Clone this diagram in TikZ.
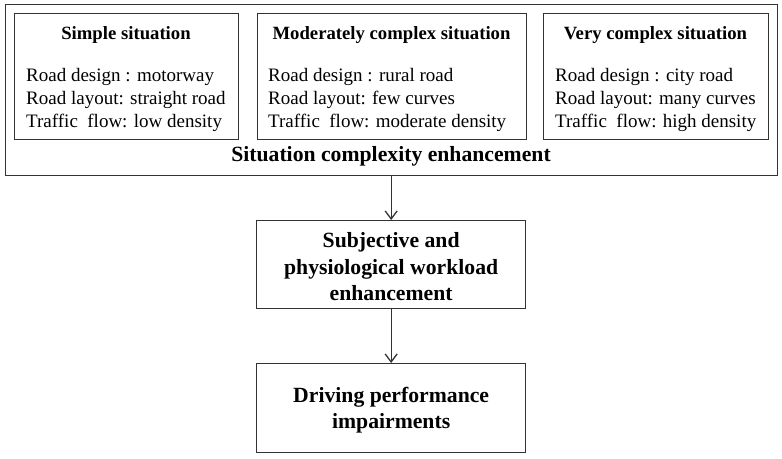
\documentclass[tikz,border=0pt]{standalone}
\usepackage{fontspec}
\setmainfont{Liberation Serif}
\usetikzlibrary{arrows.meta}
\begin{document}
\begin{tikzpicture}[x=1pt,y=-1pt,
  frame/.style={draw=black!80, line width=1.3pt},
  head/.style={font=\fontsize{18.7}{21}\selectfont\bfseries, anchor=center},
  body/.style={font=\fontsize{19}{23}\selectfont, anchor=north west, align=left, inner sep=0pt},
  big/.style={font=\fontsize{21.7}{26.5}\selectfont\bfseries, align=center},
  arr/.style={draw=black!80, line width=1.3pt, -{Straight Barb[length=8pt,width=12pt]}}]
\useasboundingbox (0,0) rectangle (782,458);
% outer
\node[frame, minimum width=772pt, minimum height=171pt, anchor=north west, inner sep=0pt] (outer) at (5,4) {};
\node[frame, minimum width=224pt, minimum height=126pt, anchor=north west, inner sep=0pt] (b1) at (14,13) {};
\node[frame, minimum width=269pt, minimum height=126pt, anchor=north west, inner sep=0pt] (b2) at (257,13) {};
\node[frame, minimum width=225pt, minimum height=126pt, anchor=north west, inner sep=0pt] (b3) at (543,13) {};
\node[head] (h1) at (126,35) {Simple situation};
\node[head] (h2) at (391.5,35) {Moderately complex situation};
\node[head] (h3) at (655.5,35) {Very complex situation};
\node[body] (t1) at (26,68) {Road design : motorway\\Road layout: straight road\\Traffic\ \ flow: low density};
\node[body] (t2) at (268,68) {Road design : rural road\\Road layout: few curves\\Traffic\ \ flow: moderate density};
\node[body] (t3) at (555,68) {Road design : city road\\Road layout: many curves\\Traffic\ \ flow: high density};
\node[big] (sce) at (391,156) {Situation complexity enhancement};
\node[frame, minimum width=269pt, minimum height=88pt, anchor=north west, inner sep=0pt] (mid) at (256,220) {};
\node[big] (midtext) at ([yshift=-2pt]mid.center) {Subjective and\\physiological workload\\enhancement};
\node[frame, minimum width=269pt, minimum height=89pt, anchor=north west, inner sep=0pt] (bot) at (256,363) {};
\node[big] (bottext) at ([yshift=-2pt]bot.center) {Driving performance\\impairments};
\draw[arr] (outer.south -| mid.north) -- (mid.north);
\draw[arr] (mid.south) -- (bot.north);
\end{tikzpicture}
\end{document}
